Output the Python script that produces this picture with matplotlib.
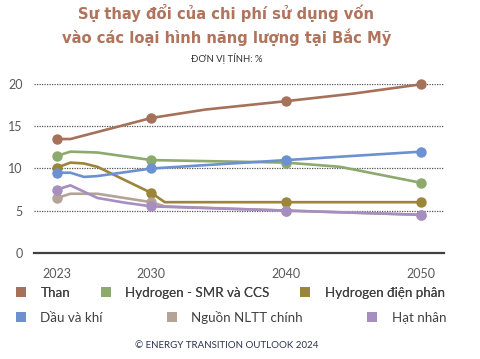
import matplotlib
matplotlib.use("Agg")
import matplotlib.pyplot as plt
from matplotlib.patches import Patch

FONT = ["Lato", "DejaVu Sans"]
plt.rcParams["font.family"] = FONT

# dữ liệu (%)
than_x = [2023, 2024, 2030, 2034, 2040, 2045, 2050]
than_y = [13.5, 13.5, 16.0, 17.0, 18.0, 18.9, 20.0]

smr_x = [2023, 2024, 2026, 2030, 2040, 2044, 2050]
smr_y = [11.5, 12.0, 11.9, 11.0, 10.7, 10.2, 8.3]

dien_phan_x = [2023, 2024, 2025, 2026, 2030, 2031, 2040, 2050]
dien_phan_y = [10.1, 10.7, 10.6, 10.2, 7.1, 6.0, 6.0, 6.0]

dau_khi_x = [2023, 2024, 2025, 2026, 2030, 2040, 2050]
dau_khi_y = [9.5, 9.5, 9.0, 9.1, 10.0, 11.0, 12.0]

nltt_x = [2023, 2024, 2026, 2030, 2031, 2040, 2050]
nltt_y = [6.5, 7.0, 7.0, 6.0, 5.5, 5.0, 4.5]

hat_nhan_x = [2023, 2024, 2026, 2028, 2030, 2040, 2050]
hat_nhan_y = [7.5, 8.0, 6.5, 5.95, 5.5, 5.0, 4.5]

marker_years = [2023, 2030, 2040, 2050]

series = [
    ("Than", than_x, than_y, "#A5715B"),
    ("Hydrogen - SMR và CCS", smr_x, smr_y, "#8CA96E"),
    ("Hydrogen điện phân", dien_phan_x, dien_phan_y, "#9A8538"),
    ("Dầu và khí", dau_khi_x, dau_khi_y, "#6C90D0"),
    ("Nguồn NLTT chính", nltt_x, nltt_y, "#B3A497"),
    ("Hạt nhân", hat_nhan_x, hat_nhan_y, "#A68EC0"),
]

fig = plt.figure(figsize=(4.8, 3.59), dpi=100)
ax = fig.add_axes([34 / 480, 1 - 252.7 / 359, 410 / 480, 168.4 / 359])

handles = []
for name, xs, ys, col in series:
    idx = [xs.index(y) for y in marker_years]
    ax.plot(xs, ys, color=col, lw=1.9, marker="o", markersize=6.5,
            markevery=idx, clip_on=False, solid_joinstyle="round")
    handles.append(Patch(facecolor=col, edgecolor="none", label=name))

ax.set_xlim(2021.3, 2051.7)
ax.set_ylim(0, 20)
ax.set_xticks(marker_years)
ax.set_yticks([0, 5, 10, 15, 20])
ax.tick_params(axis="both", length=0, labelsize=9, colors="#595959")
ax.tick_params(axis="x", pad=11)
ax.tick_params(axis="y", pad=8)
for s in ["top", "right", "left"]:
    ax.spines[s].set_visible(False)
ax.spines["bottom"].set_color("#404040")
ax.spines["bottom"].set_linewidth(1.6)
ax.grid(axis="y", color="#555555", ls=(0, (1, 1)), lw=0.9)
ax.set_axisbelow(True)

title_kw = dict(ha="center", va="center", fontsize=10.6, fontweight="bold",
                color="#B0735C", family="DejaVu Sans")
fig.text(226.5 / 480, 1 - 13 / 359, "Sự thay đổi của chi phí sử dụng vốn", **title_kw)
fig.text(226.5 / 480, 1 - 37 / 359, "vào các loại hình năng lượng tại Bắc Mỹ", **title_kw)
fig.text(227 / 480, 1 - 59 / 359, "ĐƠN VỊ TÍNH: %", ha="center", va="center",
         fontsize=6.8, color="#333333")

leg_kw = dict(loc="center left", ncol=3, frameon=False, fontsize=9.6,
              handlelength=0.75, handleheight=0.75, handletextpad=1.1,
              borderpad=0, labelcolor="#404040")
leg1 = fig.legend(handles=handles[:3], bbox_to_anchor=(9 / 480, 1 - 293 / 359),
                  columnspacing=2.3, **leg_kw)
fig.add_artist(leg1)
fig.legend(handles=handles[3:], bbox_to_anchor=(9 / 480, 1 - 317 / 359),
           columnspacing=4.8, **leg_kw)

fig.text(227 / 480, 1 - 345 / 359, "© ENERGY TRANSITION OUTLOOK 2024", ha="center",
         va="center", fontsize=7, color="#2A3350")

fig.savefig("out.png", dpi=100)
